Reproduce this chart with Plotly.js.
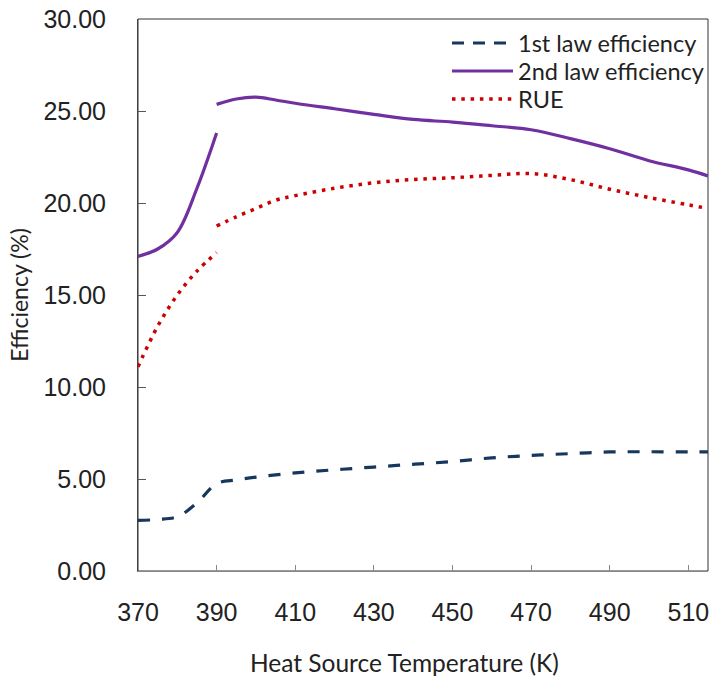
<!DOCTYPE html>
<html>
<head>
<meta charset="utf-8">
<script src="https://cdn.plot.ly/plotly-3.0.1.min.js"></script>
<style>html,body{margin:0;padding:0;background:#fff;}#chart{width:716px;height:681px;}</style>
</head>
<body>
<div id="chart"></div>
<script>
// Heat source temperature (K)
var tempAll  = [370, 375, 380, 385, 390, 395, 400, 410, 420, 430, 440, 450, 460, 470, 480, 490, 500, 510, 515];
var tempLow  = [370, 375, 380, 385, 390];
var tempHigh = [390, 395, 400, 405, 410, 420, 430, 440, 450, 460, 470, 480, 490, 500, 510, 515];

// 1st law efficiency (%)
var firstLaw = [2.75, 2.8, 2.95, 3.7, 4.75, 4.95, 5.1, 5.33, 5.5, 5.65, 5.8, 5.95, 6.15, 6.28, 6.38, 6.47, 6.48, 6.47, 6.47];

// 2nd law efficiency (%)
var secondLow  = [17.1, 17.5, 18.4, 20.8, 23.8];
var secondHigh = [25.36, 25.65, 25.75, 25.6, 25.42, 25.12, 24.82, 24.54, 24.4, 24.2, 23.98, 23.5, 22.95, 22.3, 21.8, 21.47];

// RUE (%)
var rueLow  = [11.1, 13.3, 15.0, 16.3, 17.3];
var rueHigh = [18.75, 19.25, 19.7, 20.15, 20.4, 20.8, 21.1, 21.28, 21.37, 21.5, 21.6, 21.27, 20.75, 20.3, 19.9, 19.7];

var seriesNames = ["1st law efficiency", "2nd law efficiency", "RUE"];
var xTicks = [370, 390, 410, 430, 450, 470, 490, 510];
var yTicks = [0, 5, 10, 15, 20, 25, 30];
var yTickText = yTicks.map(function (v) { return v.toFixed(2); });

function joinSegments(a, b) { return a.concat([null], b); }

var lineStyles = [
  {color: "#17375E", width: 3.2, dash: "12px,12px"},
  {color: "#7030A0", width: 3.2, dash: "solid"},
  {color: "#CC0000", width: 3.5, dash: "3.5px,5.8px"}
];

var traces = [
  {x: tempAll, y: firstLaw},
  {x: joinSegments(tempLow, tempHigh), y: joinSegments(secondLow, secondHigh)},
  {x: joinSegments(tempLow, tempHigh), y: joinSegments(rueLow, rueHigh)}
].map(function (t, i) {
  t.name = seriesNames[i];
  t.mode = "lines";
  t.connectgaps = false;
  t.showlegend = false;
  t.line = {color: lineStyles[i].color, width: lineStyles[i].width, dash: lineStyles[i].dash,
            shape: "spline", smoothing: 1};
  return t;
});

// Plot area in pixels (for placing legend / title)
var W = 716, H = 681, mL = 138, mR = 8, mT = 19, mB = 110;
var pw = W - mL - mR, ph = H - mT - mB;
function px2x(px) { return (px - mL) / pw; }
function py2y(py) { return (H - mB - py) / ph; }

var legendRows = [43, 71, 99];
var shapes = [{
  type: "rect", xref: "paper", yref: "paper", x0: 0, x1: 1, y0: 0, y1: 1,
  line: {color: "#333333", width: 1}, layer: "below"
}];
var annotations = [];
seriesNames.forEach(function (name, i) {
  var yy = py2y(legendRows[i]);
  shapes.push({
    type: "line", xref: "paper", yref: "paper",
    x0: px2x(452), x1: px2x(513), y0: yy, y1: yy,
    line: {color: lineStyles[i].color, width: lineStyles[i].width,
           dash: i === 0 ? "12px,9px" : lineStyles[i].dash}
  });
  annotations.push({
    xref: "paper", yref: "paper", x: px2x(516), y: yy,
    xanchor: "left", yanchor: "middle", showarrow: false, text: name,
    font: {family: "Lato, 'Noto Sans', sans-serif", size: 23.5, color: "#222"}
  });
});
annotations.push({
  xref: "paper", yref: "paper", x: px2x(404), y: py2y(662),
  xanchor: "center", yanchor: "middle", showarrow: false,
  text: "Heat Source Temperature (K)",
  font: {family: "Lato, 'Noto Sans', sans-serif", size: 24.5, color: "#222"}
});

var layout = {
  width: W, height: H,
  margin: {l: mL, r: mR, t: mT, b: mB},
  paper_bgcolor: "#ffffff", plot_bgcolor: "#ffffff",
  showlegend: false,
  xaxis: {
    range: [370, 515], tickmode: "array", tickvals: xTicks,
    ticks: "inside", ticklen: 6, tickcolor: "#888888", tickwidth: 1,
    showline: true, linecolor: "#888888", linewidth: 1,
    showgrid: false, zeroline: false,
    ticklabelstandoff: 19,
    tickfont: {family: "'Liberation Sans', Arial, sans-serif", size: 25, color: "#222"}
  },
  yaxis: {
    range: [0, 30], tickmode: "array", tickvals: yTicks, ticktext: yTickText,
    ticks: "inside", ticklen: 8, tickcolor: "#555555", tickwidth: 1,
    showline: true, linecolor: "#404040", linewidth: 1,
    showgrid: false, zeroline: false,
    ticklabelstandoff: 26,
    tickfont: {family: "'Liberation Sans', Arial, sans-serif", size: 25, color: "#222"},
    title: {text: "Efficiency (%)", standoff: 8,
            font: {family: "Lato, 'Noto Sans', sans-serif", size: 23, color: "#222"}}
  },
  shapes: shapes,
  annotations: annotations
};

Plotly.newPlot("chart", traces, layout, {displayModeBar: false, staticPlot: true});
</script>
</body>
</html>
